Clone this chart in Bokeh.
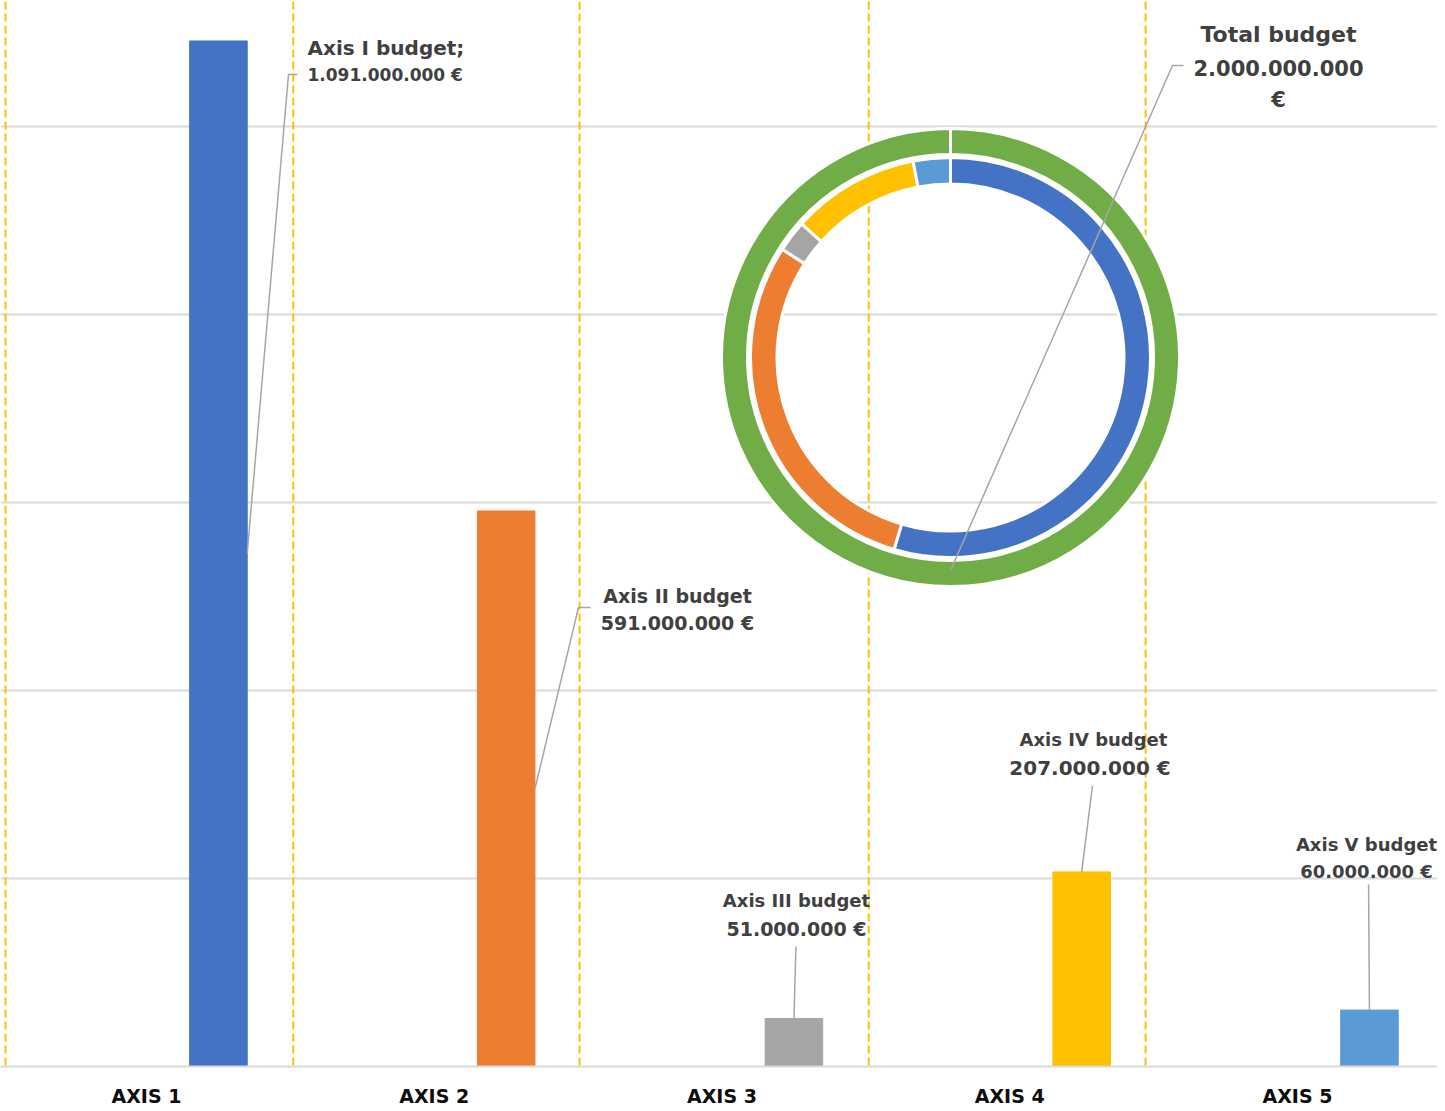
import numpy as np
from bokeh.plotting import figure
from bokeh.models import Range1d, FixedTicker, Grid
from bokeh.core.properties import value
from bokeh.embed import file_html
from bokeh.resources import INLINE

# ---------------- data ----------------
categories = ["AXIS 1", "AXIS 2", "AXIS 3", "AXIS 4", "AXIS 5"]
budgets_meur = [1091, 591, 51, 207, 60]          # million €
total_budget_meur = 2000
bar_colors = ["#4472C4", "#ED7D31", "#A5A5A5", "#FFC000", "#5B9BD5"]
total_color = "#70AD47"
label_titles = ["Axis I budget;", "Axis II budget", "Axis III budget",
                "Axis IV budget", "Axis V budget"]
label_amounts = ["1.091.000.000 €", "591.000.000 €", "51.000.000 €",
                 "207.000.000  €", "60.000.000 €"]
total_label = ["Total budget", "2.000.000.000", "€"]
grid_ticks = [200, 400, 600, 800, 1000]
divider_x = [0.0, 1.0, 1.995, 3.0, 3.962]

# ---------------- layout helpers (pixel -> data) ----------------
PX_PER_CAT = 287.75
X0_PX = 5.0
PX_PER_MEUR = 0.94
BASE_PX = 1066.0
FIG_W = 1437


def xd(px):
    return (px - X0_PX) / PX_PER_CAT


def yd(py):
    return (BASE_PX - py) / PX_PER_MEUR


BAR_OFFSET = 0.74
BAR_WIDTH = 0.2
LABEL_OFFSET = 0.49

p = figure(frame_width=FIG_W, frame_height=int(BASE_PX),
           x_range=Range1d(xd(0), xd(FIG_W)), y_range=Range1d(0, yd(0)),
           output_backend="svg", toolbar_location=None,
           y_axis_location=None, min_border=0, min_border_bottom=37)
p.outline_line_color = None
p.xgrid.visible = False
p.background_fill_color = "white"
p.border_fill_color = "white"

p.add_layout(Grid(dimension=1, ticker=FixedTicker(ticks=grid_ticks),
                  grid_line_color="#D9D9D9", grid_line_width=2))

# x axis with category labels
cat_pos = [i + LABEL_OFFSET for i in range(len(categories))]
p.xaxis.ticker = FixedTicker(ticks=cat_pos)
p.xaxis.major_label_overrides = {cp: c for cp, c in zip(cat_pos, categories)}
p.xaxis.major_label_text_font = "DejaVu Sans"
p.xaxis.major_label_text_font_style = "bold"
p.xaxis.major_label_text_font_size = "19px"
p.xaxis.major_label_text_color = "#0D0D0D"
p.xaxis.major_label_standoff = 12
p.xaxis.major_tick_line_color = None
p.xaxis.minor_tick_line_color = None
p.xaxis.axis_line_color = "#D9D9D9"
p.xaxis.axis_line_width = 2

# dashed dividers
top = p.y_range.end
p.segment(x0=divider_x, y0=[-50] * len(divider_x), x1=divider_x,
          y1=[top + 50] * len(divider_x),
          line_color="#FFC000", line_width=2, line_dash="8 4")

# bars
bar_x = [i + BAR_OFFSET for i in range(len(categories))]
p.vbar(x=bar_x, top=budgets_meur, width=BAR_WIDTH, color=bar_colors)

# donut
cx, cy = xd(950), yd(357)
fr = np.array(budgets_meur) / total_budget_meur
cum = np.concatenate([[0], np.cumsum(fr)])
starts = [np.pi / 2 - 2 * np.pi * cum[i + 1] for i in range(len(fr))]
ends = [np.pi / 2 - 2 * np.pi * cum[i] for i in range(len(fr))]
p.annular_wedge(x=[cx], y=[cy], inner_radius=203, outer_radius=229,
                inner_radius_units="screen", outer_radius_units="screen",
                start_angle=[np.pi / 2 - 2 * np.pi * (total_budget_meur / total_budget_meur) + 1e-6],
                end_angle=[np.pi / 2], direction="anticlock",
                fill_color=total_color, line_color="white", line_width=3)
p.annular_wedge(x=[cx] * len(fr), y=[cy] * len(fr), inner_radius=173.5, outer_radius=200,
                inner_radius_units="screen", outer_radius_units="screen",
                start_angle=starts, end_angle=ends, direction="anticlock",
                fill_color=bar_colors, line_color="white", line_width=3)

# leader lines
lead_xs = [
    [bar_x[0] + BAR_WIDTH / 2, xd(288), xd(297)],
    [bar_x[1] + BAR_WIDTH / 2, xd(578), xd(590)],
    [bar_x[2], bar_x[2] + 0.007],
    [bar_x[3], xd(1092)],
    [bar_x[4], bar_x[4] - 0.003],
    [cx, xd(1172), xd(1183)],
]
lead_ys = [
    [budgets_meur[0] / 2, yd(74), yd(74)],
    [budgets_meur[1] / 2, yd(607), yd(607)],
    [budgets_meur[2], yd(946)],
    [budgets_meur[3], yd(785)],
    [budgets_meur[4], yd(884)],
    [yd(570), yd(65), yd(65)],
]
p.multi_line(xs=lead_xs, ys=lead_ys, line_color="#A6A6A6", line_width=1.5)

# labels
TXT = "#404040"
FONT = value("DejaVu Sans")
lab_x = [xd(307), xd(677), xd(796), xd(1093), xd(1366)]
lab_align = ["left", "center", "center", "center", "center"]
lab_y1 = [yd(47), yd(595), yd(900), yd(739), yd(844)]
lab_y2 = [yd(74), yd(622), yd(928), yd(767), yd(871)]
lab_size = ["20px", "19px", "18px", "18px", "18px"]
amt_size = ["17px", "19px", "19px", "20px", "18px"]
for i in range(len(categories)):
    p.text(x=[lab_x[i]], y=[lab_y1[i]], text=[label_titles[i]], text_font=FONT,
           text_font_style="bold", text_font_size=lab_size[i], text_color=TXT,
           text_align=lab_align[i], text_baseline="middle")
    p.text(x=[lab_x[i]], y=[lab_y2[i]], text=[label_amounts[i]], text_font=FONT,
           text_font_style="bold", text_font_size=amt_size[i], text_color=TXT,
           text_align=lab_align[i], text_baseline="middle")

p.text(x=[xd(1278)] * 3, y=[yd(34), yd(67), yd(99)], text=total_label, text_font=FONT,
       text_font_style="bold", text_font_size=["22px", "21px", "21px"], text_color=TXT,
       text_align="center", text_baseline="middle")

open("out.html", "w").write(file_html(p, INLINE))
